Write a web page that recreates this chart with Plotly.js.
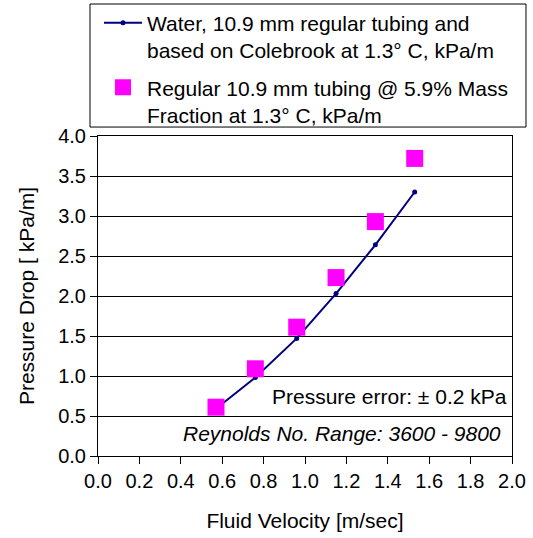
<!DOCTYPE html>
<html>
<head>
<meta charset="utf-8">
<script src="https://cdn.plot.ly/plotly-3.0.1.min.js"></script>
<style>html,body{margin:0;padding:0;background:#fff;}#chart{width:533px;height:538px;}</style>
</head>
<body>
<div id="chart"></div>
<script>
// Data
const velocity = [0.57, 0.76, 0.96, 1.15, 1.34, 1.53];
const waterDrop = [0.59, 0.98, 1.47, 2.03, 2.64, 3.30];
const massDrop = [0.61, 1.09, 1.61, 2.23, 2.93, 3.72];
const seriesNames = [
  'Water, 10.9 mm regular tubing and<br>based on Colebrook at 1.3° C, kPa/m',
  'Regular 10.9 mm tubing @ 5.9% Mass<br>Fraction at 1.3° C, kPa/m'
];
const xTitle = 'Fluid Velocity [m/sec]';
const yTitle = 'Pressure Drop [ kPa/m]';
const noteError = 'Pressure error: ± 0.2 kPa';
const noteReynolds = '<i>Reynolds No. Range: 3600 - 9800</i>';

const FONT = 'Liberation Sans, Arial, Helvetica, sans-serif';

const traces = [
  {
    x: velocity, y: waterDrop, name: seriesNames[0], type: 'scatter', mode: 'lines+markers',
    line: {color: '#000080', width: 2},
    marker: {color: '#000080', size: 5, symbol: 'circle'},
    legendgroup: 'a'
  },
  {
    x: velocity, y: massDrop, name: seriesNames[1], type: 'scatter', mode: 'markers',
    marker: {color: '#FF00FF', size: 17, symbol: 'square', line: {width: 0}},
    legendgroup: 'b'
  }
];

const layout = {
  width: 533, height: 538,
  margin: {l: 98, r: 21, t: 136, b: 82, autoexpand: false},
  paper_bgcolor: '#ffffff', plot_bgcolor: '#ffffff',
  font: {family: FONT, size: 21, color: '#000'},
  showlegend: true,
  legend: {
    x: 0.0024, xanchor: 'left', y: 1.417, yanchor: 'top',
    bgcolor: 'rgba(0,0,0,0)', borderwidth: 0,
    font: {family: FONT, size: 21, color: '#000'},
    itemwidth: 38, valign: 'top', tracegroupgap: 7,
    traceorder: 'grouped'
  },
  xaxis: {
    range: [0, 2], dtick: 0.2, tick0: 0, tickformat: '.1f',
    showgrid: false, zeroline: false,
    showline: true, linecolor: '#000', linewidth: 1, mirror: true,
    ticks: 'outside', ticklen: 7, tickcolor: '#000', tickwidth: 1,
    tickfont: {family: FONT, size: 20, color: '#000'},
    title: {text: xTitle, font: {family: FONT, size: 21, color: '#000'}, standoff: 22}
  },
  yaxis: {
    range: [0, 4], dtick: 0.5, tick0: 0, tickformat: '.1f',
    showgrid: true, gridcolor: '#000', gridwidth: 1, zeroline: false,
    showline: true, linecolor: '#000', linewidth: 1, mirror: true,
    ticks: 'outside', ticklen: 7, tickcolor: '#000', tickwidth: 1,
    tickfont: {family: FONT, size: 20, color: '#000'},
    title: {text: yTitle, font: {family: FONT, size: 21, color: '#000'}, standoff: 17}
  },
  shapes: [
    {type: 'rect', xref: 'paper', yref: 'paper', x0: -0.0193, x1: 1.0338, y0: 1.028, y1: 1.4125,
     line: {color: '#000', width: 1}, fillcolor: 'rgba(0,0,0,0)'}
  ],
  annotations: [
    {text: noteError, xref: 'paper', yref: 'paper', x: 0.992, y: 0.1875, xanchor: 'right', yanchor: 'middle',
     showarrow: false, font: {family: FONT, size: 21, color: '#000'}},
    {text: noteReynolds, xref: 'paper', yref: 'paper', x: 0.978, y: 0.069, xanchor: 'right', yanchor: 'middle',
     showarrow: false, font: {family: FONT, size: 21, color: '#000'}}
  ]
};

Plotly.newPlot('chart', traces, layout, {displayModeBar: false, staticPlot: true});
</script>
</body>
</html>
